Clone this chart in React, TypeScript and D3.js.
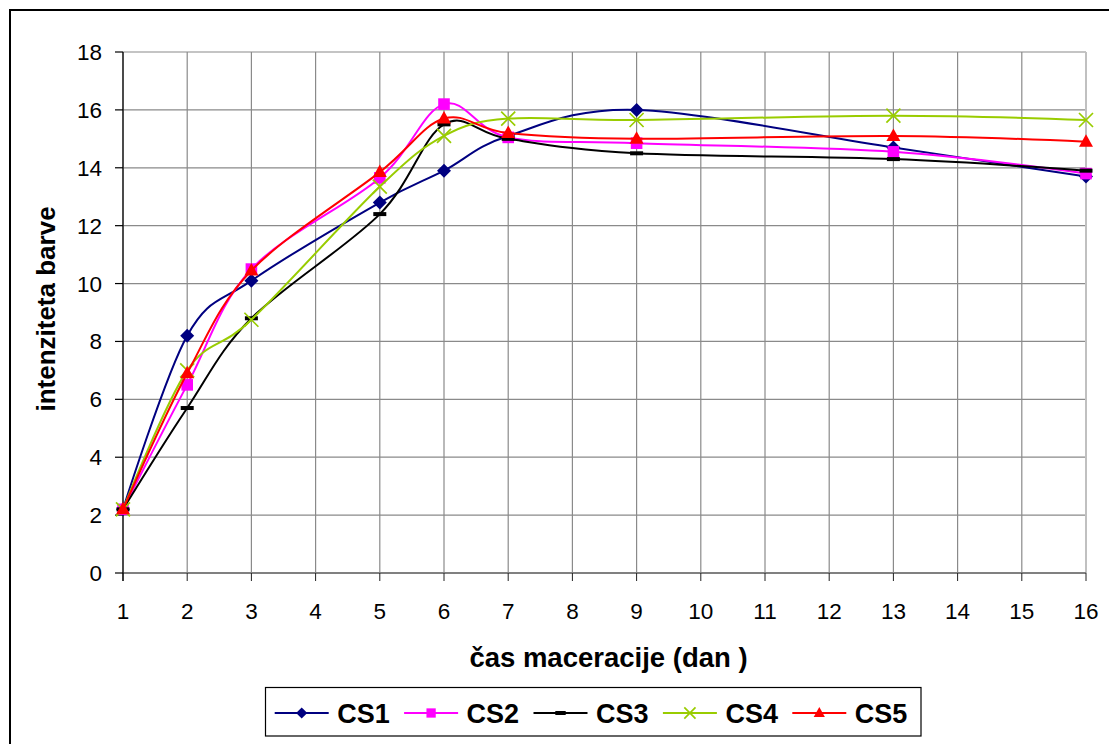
import React from "react";
import * as d3 from "d3";

// Maceration days with measurements, and colour intensity per sample
const days = [1, 2, 3, 5, 6, 7, 9, 13, 16];
const cs1 = [2.2, 8.2, 10.1, 12.8, 13.9, 15.1, 16.0, 14.7, 13.7];
const cs2 = [2.2, 6.5, 10.5, 13.65, 16.2, 15.05, 14.85, 14.55, 13.8];
const cs3 = [2.2, 5.7, 8.8, 12.4, 15.5, 15.0, 14.5, 14.3, 13.9];
const cs4 = [2.2, 7.0, 8.75, 13.35, 15.1, 15.7, 15.65, 15.8, 15.65];
const cs5 = [2.2, 6.9, 10.45, 13.85, 15.7, 15.2, 15.0, 15.1, 14.9];

const seriesNames = ["CS1", "CS2", "CS3", "CS4", "CS5"];
const seriesValues = [cs1, cs2, cs3, cs4, cs5];
const seriesColors = ["#000080", "#FF00FF", "#000000", "#99CC00", "#FF0000"];
const seriesMarkers = ["diamond", "square", "dash", "x", "triangle"];

const xTicks = d3.range(1, 17);
const yTicks = [0, 2, 4, 6, 8, 10, 12, 14, 16, 18];

const W = 1109;
const H = 744;
const plot = { left: 123, right: 1086, top: 52, bottom: 573 };
const FONT = "'Liberation Sans', Arial, Helvetica, sans-serif";

function Marker({ type, x, y, color, s = 1 }: { type: string; x: number; y: number; color: string; s?: number }) {
  if (type === "diamond") {
    const r = 7 * s;
    return <path d={`M${x},${y - r}L${x + r},${y}L${x},${y + r}L${x - r},${y}Z`} fill={color} />;
  }
  if (type === "square") {
    const r = 5.8 * s;
    return <rect x={x - r} y={y - r} width={2 * r} height={2 * r} fill={color} />;
  }
  if (type === "triangle") {
    const w = 7 * s;
    const h = 12.5 * s;
    return <path d={`M${x},${y - h * 0.6}L${x + w},${y + h * 0.4}L${x - w},${y + h * 0.4}Z`} fill={color} />;
  }
  if (type === "x") {
    const r = 7 * s;
    return (
      <path
        d={`M${x - r},${y - r}L${x + r},${y + r}M${x - r},${y + r}L${x + r},${y - r}`}
        stroke={color}
        strokeWidth={1.7}
        fill="none"
      />
    );
  }
  // dash
  const w = 6.5 * s;
  return <rect x={x - w} y={y - 2} width={2 * w} height={4} fill={color} />;
}

export default function App() {
  const x = d3.scaleLinear().domain([1, 16]).range([plot.left, plot.right]);
  const y = d3.scaleLinear().domain([0, 18]).range([plot.bottom, plot.top]);

  const line = d3
    .line<[number, number]>()
    .x((d) => x(d[0]))
    .y((d) => y(d[1]))
    .curve(d3.curveCardinal.tension(0));

  const legendX0 = 274.7;
  const legendStep = 129.4;
  const legendY = 713;

  return (
    <svg
      width={W}
      height={H}
      style={{ position: "fixed", left: 0, top: 0, background: "#fff" }}
      fontFamily={FONT}
    >
      <rect x={0} y={0} width={W} height={H} fill="#fff" />
      {/* chart area frame */}
      <rect x={10} y={10} width={W + 20} height={H + 20} fill="none" stroke="#000" strokeWidth={2} />

      {/* horizontal gridlines */}
      {yTicks.map((t) => (
        <line key={"gy" + t} x1={plot.left} x2={plot.right} y1={y(t)} y2={y(t)} stroke="#8a8a8a" strokeWidth={1.2} />
      ))}
      {/* vertical gridlines */}
      {xTicks.map((t) => (
        <line
          key={"gx" + t}
          x1={x(t)}
          x2={x(t)}
          y1={plot.top}
          y2={plot.bottom}
          stroke={t === 16 ? "#c0c0c0" : "#8a8a8a"}
          strokeWidth={t === 16 ? 2 : 1.2}
        />
      ))}

      {/* x axis */}
      <line x1={plot.left} x2={plot.right} y1={plot.bottom} y2={plot.bottom} stroke="#808080" strokeWidth={2} />
      {xTicks.map((t) => (
        <g key={"tx" + t}>
          <line x1={x(t)} x2={x(t)} y1={plot.bottom} y2={plot.bottom + 8} stroke="#202020" strokeWidth={1} />
          <text x={x(t)} y={619} textAnchor="middle" fontSize={22.5} fill="#000">
            {t}
          </text>
        </g>
      ))}

      {/* y axis */}
      <line x1={plot.left} x2={plot.left} y1={plot.top} y2={plot.bottom + 8} stroke="#000" strokeWidth={1.2} />
      {yTicks.map((t) => (
        <g key={"ty" + t}>
          <line x1={plot.left - 8} x2={plot.left} y1={y(t)} y2={y(t)} stroke="#000" strokeWidth={1.2} />
          <text x={102} y={y(t) + 8} textAnchor="end" fontSize={22.5} fill="#000">
            {t}
          </text>
        </g>
      ))}

      {/* series */}
      {seriesValues.map((vals, i) => {
        const pts = days.map((d, j) => [d, vals[j]] as [number, number]);
        return (
          <g key={seriesNames[i]}>
            <path d={line(pts) || ""} fill="none" stroke={seriesColors[i]} strokeWidth={2} />
            {pts.map((p, j) => (
              <Marker key={j} type={seriesMarkers[i]} x={x(p[0])} y={y(p[1])} color={seriesColors[i]} />
            ))}
          </g>
        );
      })}

      {/* axis titles */}
      <text x={608.5} y={667} textAnchor="middle" fontSize={27.5} fontWeight="bold" fill="#000">
        čas maceracije (dan )
      </text>
      <text
        transform={`translate(55,309) rotate(-90)`}
        textAnchor="middle"
        fontSize={26}
        fontWeight="bold"
        fill="#000"
      >
        intenziteta barve
      </text>

      {/* legend */}
      <rect x={265.5} y={687.5} width={655.5} height={48.5} fill="#fff" stroke="#000" strokeWidth={1.2} />
      {seriesNames.map((name, i) => {
        const lx = legendX0 + i * legendStep;
        return (
          <g key={"lg" + name}>
            <line x1={lx} x2={lx + 54} y1={legendY} y2={legendY} stroke={seriesColors[i]} strokeWidth={2} />
            <Marker type={seriesMarkers[i]} x={lx + 27} y={legendY} color={seriesColors[i]} s={0.8} />
            <text x={lx + 62.5} y={legendY + 10} fontSize={27} fontWeight="bold" fill="#000">
              {name}
            </text>
          </g>
        );
      })}
    </svg>
  );
}
